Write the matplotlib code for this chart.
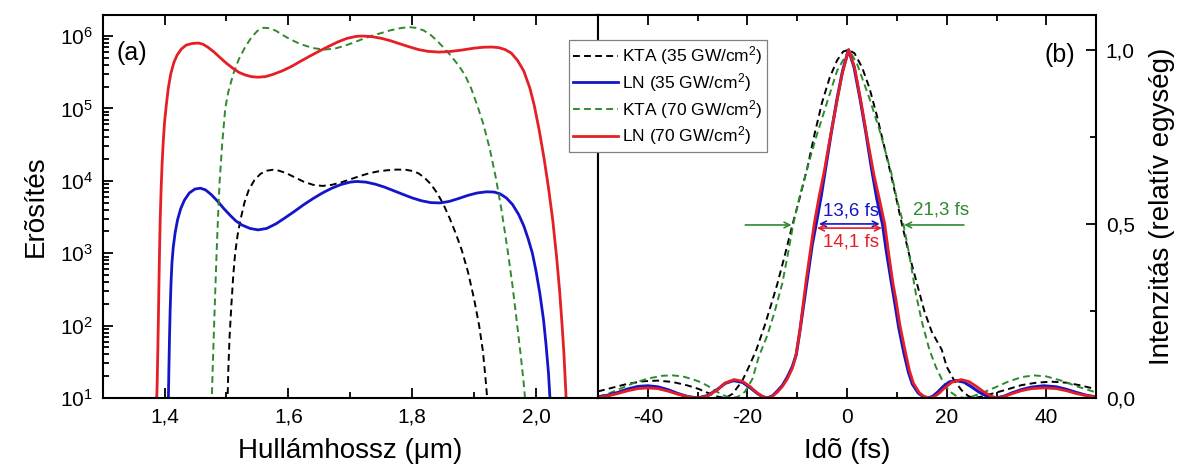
import numpy as np
import matplotlib
matplotlib.use('Agg')
from matplotlib import pyplot as plt
from matplotlib.ticker import FixedLocator, LogLocator, NullFormatter

plt.rcParams['font.family'] = ['Liberation Sans', 'DejaVu Sans']
plt.rcParams['mathtext.default'] = 'regular'

# (a) gain spectra
wl_ln70 = [1.387, 1.388, 1.389, 1.390, 1.391, 1.392, 1.393, 1.3945, 1.396, 1.398, 1.400, 1.403,
           1.406, 1.410, 1.415, 1.420, 1.427, 1.435, 1.445, 1.455, 1.462, 1.47, 1.48, 1.49, 1.50,
           1.51, 1.52, 1.53, 1.54, 1.551, 1.563, 1.575, 1.59, 1.605, 1.62, 1.635, 1.65, 1.665,
           1.68, 1.695, 1.71, 1.72, 1.735, 1.75, 1.765, 1.78, 1.795, 1.81, 1.825, 1.843, 1.86,
           1.88, 1.90, 1.915, 1.929, 1.94, 1.95, 1.96, 1.97, 1.98, 1.99, 1.997, 2.005, 2.013,
           2.02, 2.027, 2.033, 2.038, 2.042, 2.045, 2.048, 2.049]
g_ln70 = [8, 15, 40, 120, 400, 1.2e3, 3e3, 8e3, 1.7e4, 3.6e4, 6.5e4, 1.15e5,
          1.9e5, 3e5, 4.3e5, 5.4e5, 6.6e5, 7.5e5, 7.9e5, 8e5, 7.7e5, 7e5, 6e5, 5e5, 4.2e5,
          3.6e5, 3.15e5, 2.9e5, 2.75e5, 2.7e5, 2.75e5, 2.95e5, 3.3e5, 3.8e5, 4.5e5, 5.3e5, 6.2e5,
          7.2e5, 8.3e5, 9.3e5, 9.9e5, 1.0e6, 9.8e5, 9.3e5, 8.6e5, 7.8e5, 7.1e5, 6.5e5, 6.15e5,
          6.0e5, 6.1e5, 6.4e5, 6.8e5, 7.0e5, 7.05e5, 6.9e5, 6.5e5, 5.8e5, 4.6e5, 3.3e5, 1.9e5,
          1.1e5, 5e4, 2e4, 8e3, 2.8e3, 900, 300, 100, 40, 12, 8]

wl_ln35 = [1.406, 1.407, 1.408, 1.409, 1.4105, 1.412, 1.414, 1.417, 1.421, 1.426, 1.432, 1.44,
           1.449, 1.458, 1.466, 1.475, 1.485, 1.495, 1.505, 1.515, 1.525, 1.538, 1.551, 1.565,
           1.58, 1.595, 1.61, 1.625, 1.64, 1.655, 1.67, 1.685, 1.70, 1.71, 1.725, 1.74, 1.755,
           1.77, 1.785, 1.80, 1.815, 1.83, 1.845, 1.86, 1.875, 1.89, 1.905, 1.92, 1.932, 1.942,
           1.952, 1.962, 1.972, 1.98, 1.987, 1.994, 2.0, 2.006, 2.012, 2.016, 2.02, 2.023]
g_ln35 = [8, 25, 70, 160, 400, 750, 1.2e3, 1.9e3, 2.9e3, 4.1e3, 5.4e3, 6.8e3,
          7.7e3, 7.9e3, 7.5e3, 6.5e3, 5.3e3, 4.2e3, 3.4e3, 2.8e3, 2.45e3, 2.2e3, 2.1e3, 2.2e3,
          2.55e3, 3.1e3, 3.8e3, 4.7e3, 5.7e3, 6.8e3, 7.9e3, 8.9e3, 9.6e3, 9.8e3, 9.6e3, 9e3,
          8.2e3, 7.3e3, 6.5e3, 5.8e3, 5.3e3, 5e3, 4.95e3, 5.2e3, 5.7e3, 6.3e3, 6.8e3, 7.05e3,
          7e3, 6.6e3, 5.8e3, 4.7e3, 3.4e3, 2.4e3, 1.6e3, 1e3, 560, 280, 120, 55, 22, 8]

wl_kta70 = [1.476, 1.478, 1.480, 1.482, 1.484, 1.486, 1.489, 1.493, 1.498, 1.503, 1.511, 1.52,
            1.53, 1.54, 1.55, 1.56, 1.57, 1.58, 1.59, 1.603, 1.62, 1.64, 1.658, 1.675, 1.69,
            1.705, 1.72, 1.735, 1.75, 1.765, 1.78, 1.794, 1.805, 1.818, 1.83, 1.84, 1.85, 1.862,
            1.875, 1.885, 1.895, 1.905, 1.915, 1.925, 1.935, 1.944, 1.954, 1.962, 1.969, 1.975,
            1.98, 1.983]
g_kta70 = [8, 30, 100, 320, 1e3, 2.7e3, 1e4, 3.2e4, 1e5, 1.7e5, 3e5, 4.8e5,
           7e5, 9.5e5, 1.18e6, 1.3e6, 1.28e6, 1.18e6, 1.04e6, 9e5, 7.7e5, 6.8e5, 6.5e5, 6.7e5,
           7.3e5, 8.1e5, 9.1e5, 1.01e6, 1.1e6, 1.2e6, 1.28e6, 1.33e6, 1.3e6, 1.2e6, 1.03e6,
           8.6e5, 7e5, 5.4e5, 3.9e5, 2.9e5, 1.9e5, 1.1e5, 6e4, 2.8e4, 1.1e4, 4e3, 1.1e3, 350,
           110, 40, 16, 8]

wl_kta35 = [1.5015, 1.503, 1.505, 1.508, 1.511, 1.514, 1.518, 1.523, 1.529, 1.536, 1.545, 1.555,
            1.565, 1.575, 1.585, 1.597, 1.61, 1.625, 1.64, 1.655, 1.67, 1.685, 1.70, 1.715, 1.73,
            1.745, 1.76, 1.775, 1.79, 1.80, 1.81, 1.82, 1.83, 1.84, 1.85, 1.86, 1.87, 1.88, 1.89,
            1.90, 1.908, 1.914, 1.918, 1.922]
g_kta35 = [8, 25, 70, 200, 500, 1e3, 1.8e3, 3e3, 5e3, 7.5e3, 1.02e4, 1.25e4,
           1.38e4, 1.42e4, 1.38e4, 1.27e4, 1.12e4, 9.7e3, 8.8e3, 8.5e3, 8.8e3, 9.5e3, 1.05e4,
           1.16e4, 1.27e4, 1.35e4, 1.4e4, 1.43e4, 1.42e4, 1.37e4, 1.27e4, 1.1e4, 9e3, 6.8e3,
           4.8e3, 3.1e3, 1.9e3, 1.1e3, 550, 230, 100, 45, 20, 8]

# (b) temporal intensity
t_ln70 = [-50, -48, -46, -44, -42, -40, -38, -36, -34, -32, -30, -28, -26, -24.5, -22.7, -21, -19.5,
          -18, -17, -16, -15, -14, -13, -12, -11, -10.3, -9.5, -8.9, -8.2, -7.4, -6.6, -5.6, -4.6,
          -3.5, -2.2, -1, 0.3, 1.5, 2.8, 4, 5.4, 6.5, 7.55, 8.4, 9.2, 9.8, 10.6, 11.6, 12.5, 13.3,
          14.5, 15.5, 16.6, 17.5, 18.5, 19.5, 21, 22.9, 24.5, 26, 27.5, 29, 30.1, 31.5, 33, 35, 37,
          39.5, 42, 44, 46, 48, 50]
i_ln70 = [0.002, 0.006, 0.013, 0.021, 0.027, 0.029, 0.027, 0.020, 0.011, 0.004, 0.0, 0.006, 0.024,
          0.043, 0.053, 0.048, 0.033, 0.014, 0.005, 0.0, 0.005, 0.017, 0.033, 0.055, 0.085, 0.12,
          0.19, 0.26, 0.34, 0.42, 0.5, 0.58, 0.65, 0.74, 0.84, 0.93, 1.0, 0.95, 0.85, 0.75, 0.64,
          0.57, 0.5, 0.41, 0.33, 0.283, 0.21, 0.139, 0.08, 0.043, 0.015, 0.004, 0.0, 0.004, 0.014,
          0.028, 0.045, 0.053, 0.047, 0.033, 0.017, 0.005, 0.0, 0.004, 0.012, 0.021, 0.027, 0.029,
          0.027, 0.021, 0.013, 0.007, 0.003]

t_ln35 = [-50, -48, -46, -44, -42, -40, -38, -36, -34, -32, -30, -28, -26, -24.5, -22.8, -21, -19.5,
          -18, -17, -16, -15, -14, -13, -12, -11, -10.2, -9.4, -8.7, -7.8, -7, -6.2, -5.2, -4.2,
          -3.2, -2, -0.9, 0.3, 1.4, 2.6, 3.8, 4.9, 6.0, 7.1, 7.9, 8.8, 9.5, 10.4, 11.4, 12.3, 13.1,
          14.3, 15.3, 16.3, 17.2, 18.2, 19.3, 20.5, 21.8, 23.4, 25, 26.5, 28, 29.8, 31.5, 33, 35, 37,
          39.5, 42, 44, 46, 48, 50]
i_ln35 = [0.003, 0.008, 0.016, 0.026, 0.033, 0.035, 0.032, 0.024, 0.013, 0.004, 0.0, 0.007, 0.025,
          0.042, 0.05, 0.045, 0.030, 0.013, 0.004, 0.0, 0.006, 0.02, 0.036, 0.06, 0.09, 0.125, 0.2,
          0.27, 0.36, 0.44, 0.5, 0.58, 0.67, 0.76, 0.86, 0.94, 1.0, 0.95, 0.86, 0.76, 0.66, 0.57,
          0.5, 0.42, 0.34, 0.28, 0.2, 0.13, 0.075, 0.04, 0.014, 0.004, 0.0, 0.005, 0.017, 0.033,
          0.046, 0.05, 0.046, 0.032, 0.017, 0.006, 0.0, 0.005, 0.014, 0.024, 0.031, 0.035, 0.032,
          0.025, 0.016, 0.008, 0.003]

t_kta35 = [-50, -47, -44, -41, -38, -35, -32, -29.8, -27.5, -26, -24.4, -23, -21.1, -19.7, -18.2,
           -16.5, -15, -14, -12.5, -11, -9.6, -8, -6.5, -5, -3.5, -2, -0.8, 0.3, 1.5, 3, 4.5, 6,
           7.5, 9, 11, 12.5, 14, 15.5, 17, 19, 20, 21.4, 23, 24.3, 25.4, 27, 29, 32, 35, 38, 41, 44,
           47, 50]
i_kta35 = [0.019, 0.03, 0.041, 0.048, 0.05, 0.046, 0.036, 0.026, 0.012, 0.004, 0.0, 0.012, 0.048,
           0.09, 0.139, 0.21, 0.28, 0.328, 0.41, 0.496, 0.57, 0.66, 0.76, 0.85, 0.92, 0.97, 0.995,
           1.0, 0.99, 0.95, 0.89, 0.81, 0.72, 0.63, 0.5, 0.41, 0.33, 0.25, 0.19, 0.139, 0.09, 0.053,
           0.022, 0.006, 0.0, 0.004, 0.012, 0.024, 0.037, 0.044, 0.047, 0.044, 0.036, 0.025]

t_kta70 = [-50, -48, -46, -43, -40, -37, -35, -33, -31, -29.5, -28, -26.5, -25, -24, -23.2, -22,
           -20.5, -19, -17.7, -16, -14.5, -13, -11.8, -10.8, -9.5, -8, -6.2, -4, -2, 0.4, 2, 4.5,
           6.5, 8.9, 10, 11.3, 12.5, 13.8, 15, 16.5, 17.8, 19.2, 20.5, 22, 23.5, 25, 27, 29.5, 32,
           35, 37.5, 40, 43, 46, 48, 50]
i_kta70 = [0.004, 0.012, 0.024, 0.042, 0.056, 0.064, 0.065, 0.062, 0.054, 0.046, 0.035, 0.021,
           0.009, 0.003, 0.0, 0.003, 0.018, 0.055, 0.12, 0.18, 0.25, 0.33, 0.42, 0.5, 0.58, 0.66,
           0.75, 0.85, 0.94, 1.0, 0.96, 0.86, 0.77, 0.645, 0.57, 0.5, 0.41, 0.3, 0.22, 0.14, 0.09,
           0.048, 0.02, 0.005, 0.0, 0.004, 0.014, 0.029, 0.045, 0.06, 0.065, 0.062, 0.05, 0.034,
           0.025, 0.016]

labels = ['KTA (35 GW/cm$^2$)', 'LN (35 GW/cm$^2$)', 'KTA (70 GW/cm$^2$)', 'LN (70 GW/cm$^2$)']
wl_ticks = [1.4, 1.6, 1.8, 2.0]
wl_ticklabels = ['1,4', '1,6', '1,8', '2,0']
t_ticks = [-40, -20, 0, 20, 40]
t_ticklabels = ['-40', '-20', '0', '20', '40']
i_ticks = [0.0, 0.5, 1.0]
i_ticklabels = ['0,0', '0,5', '1,0']

c_red = '#e41f26'
c_blue = '#1414c8'
c_green = '#2f8a2f'
dash = (0, (3.5, 2.2))

fig = plt.figure(figsize=(11.77, 4.74), dpi=100)
ax1 = fig.add_axes([0.0872, 0.1603, 0.4209, 0.808])
ax2 = fig.add_axes([0.5081, 0.1603, 0.4232, 0.808])

h1, = ax1.plot(wl_kta35, g_kta35, color='black', lw=1.4, ls=dash)
h2, = ax1.plot(wl_ln35, g_ln35, color=c_blue, lw=2.0)
h3, = ax1.plot(wl_kta70, g_kta70, color=c_green, lw=1.4, ls=dash)
h4, = ax1.plot(wl_ln70, g_ln70, color=c_red, lw=2.0)

ax1.set_yscale('log')
ax1.set_xlim(1.3, 2.1)
ax1.set_ylim(10, 1.95e6)
ax1.xaxis.set_major_locator(FixedLocator(wl_ticks))
ax1.set_xticklabels(wl_ticklabels)
ax1.xaxis.set_minor_locator(FixedLocator([1.3, 1.5, 1.7, 1.9, 2.1]))
ax1.yaxis.set_major_locator(LogLocator(base=10, numticks=10))
ax1.yaxis.set_minor_locator(LogLocator(base=10, subs=np.arange(2, 10), numticks=20))
ax1.yaxis.set_minor_formatter(NullFormatter())
ax1.tick_params(which='both', direction='in', top=True, right=False, labelsize=15, width=1.3)
ax1.tick_params(which='major', length=7, pad=7)
ax1.tick_params(which='minor', length=4)
ax1.set_xlabel('Hullámhossz (μm)', fontsize=20, labelpad=8)
ax1.set_ylabel('Erõsítés', fontsize=20, labelpad=8)
ax1.text(0.028, 0.9, '(a)', transform=ax1.transAxes, fontsize=18, va='center', ha='left')

ax2.plot(t_kta35, i_kta35, color='black', lw=1.4, ls=dash)
ax2.plot(t_kta70, i_kta70, color=c_green, lw=1.4, ls=dash)
ax2.plot(t_ln35, i_ln35, color=c_blue, lw=2.2)
ax2.plot(t_ln70, i_ln70, color=c_red, lw=2.0)
ax2.set_xlim(-50, 50)
ax2.set_ylim(0, 1.1)
ax2.xaxis.set_major_locator(FixedLocator(t_ticks))
ax2.set_xticklabels(t_ticklabels)
ax2.xaxis.set_minor_locator(FixedLocator([-30, -10, 10, 30]))
ax2.yaxis.tick_right()
ax2.yaxis.set_label_position('right')
ax2.yaxis.set_major_locator(FixedLocator(i_ticks))
ax2.set_yticklabels(i_ticklabels)
ax2.yaxis.set_minor_locator(FixedLocator([0.25, 0.75]))
ax2.tick_params(which='both', direction='in', top=True, left=False, right=True, labelsize=15, width=1.3)
ax2.tick_params(which='major', length=7, pad=7)
ax2.tick_params(which='minor', length=4)
ax2.set_xlabel('Idõ (fs)', fontsize=20, labelpad=8)
ax2.set_ylabel('Intenzitás (relatív egység)', fontsize=20, labelpad=10)
ax2.text(0.957, 0.896, '(b)', transform=ax2.transAxes, fontsize=18, va='center', ha='right')

# FWHM markers
ax2.annotate('', xy=(-10.6, 0.497), xytext=(-21, 0.497),
             arrowprops=dict(arrowstyle='->', color=c_green, lw=1.2))
ax2.annotate('', xy=(10.9, 0.497), xytext=(24, 0.497),
             arrowprops=dict(arrowstyle='->', color=c_green, lw=1.2))
ax2.text(13.3, 0.515, '21,3 fs', color=c_green, fontsize=13.5, ha='left', va='bottom')
ax2.annotate('', xy=(-6.2, 0.5), xytext=(7.1, 0.5),
             arrowprops=dict(arrowstyle='<->', color=c_blue, lw=1.2))
ax2.annotate('', xy=(-6.6, 0.488), xytext=(7.55, 0.488),
             arrowprops=dict(arrowstyle='<->', color=c_red, lw=1.2))
ax2.text(0.8, 0.512, '13,6 fs', color=c_blue, fontsize=13.5, ha='center', va='bottom')
ax2.text(0.8, 0.472, '14,1 fs', color=c_red, fontsize=13.5, ha='center', va='top')

for ax in (ax1, ax2):
    for sp in ax.spines.values():
        sp.set_linewidth(1.5)

leg = fig.legend([h1, h2, h3, h4], labels, loc='upper left',
                 bbox_to_anchor=(0.4834, 0.9156), fontsize=12.5, handlelength=2.6,
                 handletextpad=0.2, labelspacing=0.22, borderpad=0.25, borderaxespad=0,
                 fancybox=False, framealpha=1, edgecolor='#808080')
leg.get_frame().set_linewidth(0.9)

plt.savefig('out.png', dpi=100)
